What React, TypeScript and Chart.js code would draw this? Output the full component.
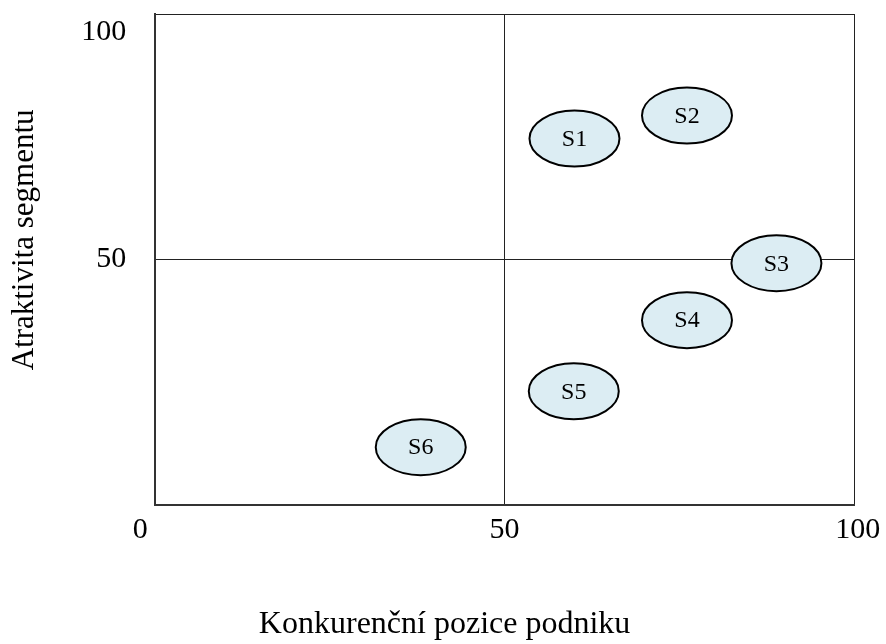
import React, { useEffect, useRef } from "react";
import { Chart, registerables } from "chart.js";

Chart.register(...registerables);

const segmentLabels = ["S1", "S2", "S3", "S4", "S5", "S6"];
const competitivePosition = [60.0, 76.1, 88.9, 76.1, 59.9, 38.0];
const segmentAttractiveness = [74.6, 79.3, 49.2, 37.6, 23.1, 11.7];
const tickValues = [0, 50, 100];
const xTitle = "Konkurenční pozice podniku";
const yTitle = "Atraktivita segmentu";

const FONT = "'Liberation Serif', 'Times New Roman', serif";
const NBSP = "\u00a0";

const ellipsePlugin = {
  id: "ellipseLabels",
  afterDatasetsDraw(chart: any) {
    const ctx = chart.ctx;
    const meta = chart.getDatasetMeta(0);
    ctx.save();
    meta.data.forEach((pt: any, i: number) => {
      const { x, y } = pt.getProps(["x", "y"], true);
      ctx.beginPath();
      ctx.ellipse(x, y, 45, 28, 0, 0, Math.PI * 2);
      ctx.fillStyle = "#dcedf3";
      ctx.fill();
      ctx.lineWidth = 2;
      ctx.strokeStyle = "#000";
      ctx.stroke();
      ctx.fillStyle = "#000";
      ctx.font = `24px ${FONT}`;
      ctx.textAlign = "center";
      ctx.textBaseline = "middle";
      ctx.fillText(segmentLabels[i], x, y + 1);
    });
    ctx.restore();
  },
};

export default function App() {
  const ref = useRef<HTMLCanvasElement | null>(null);
  useEffect(() => {
    document.body.style.margin = "0";
    const data = competitivePosition.map((x, i) => ({ x, y: segmentAttractiveness[i] }));
    const chart = new Chart(ref.current as HTMLCanvasElement, {
      type: "scatter",
      data: {
        datasets: [
          {
            data,
            pointRadius: 0,
            pointHoverRadius: 0,
          },
        ],
      },
      options: {
        animation: false,
        responsive: false,
        maintainAspectRatio: false,
        layout: { padding: 0 },
        plugins: { legend: { display: false }, tooltip: { enabled: false } },
        scales: {
          x: {
            type: "linear",
            min: 0,
            max: 100,
            afterBuildTicks: (s: any) => {
              s.ticks = tickValues.map((v) => ({ value: v }));
            },
            afterFit: (s: any) => {
              s.paddingRight = 32;
              s.paddingLeft = 0;
            },
            grid: { color: "#222", lineWidth: 1, drawTicks: false },
            border: { color: "#333", width: 2 },
            ticks: {
              color: "#000",
              padding: 8,
              font: { family: FONT, size: 30 },
              callback: (v: any) =>
                v === 0 ? "0" + NBSP.repeat(4) : v === 100 ? NBSP + "100" : String(v),
            },
            title: {
              display: true,
              text: xTitle + NBSP.repeat(15),
              color: "#000",
              font: { family: FONT, size: 32 },
              padding: { top: 49, bottom: 0 },
            },
          },
          y: {
            type: "linear",
            min: 0,
            max: 100,
            afterBuildTicks: (s: any) => {
              s.ticks = tickValues.map((v) => ({ value: v }));
            },
            afterFit: (s: any) => {
              s.paddingTop = 14;
              s.paddingBottom = 0;
            },
            grid: { color: "#222", lineWidth: 1, drawTicks: false },
            border: { color: "#333", width: 2 },
            ticks: {
              color: "#000",
              padding: 29,
              font: { family: FONT, size: 30 },
              callback: (v: any) => (v === 0 ? "" : v === 100 ? ["", "100"] : String(v)),
            },
            title: {
              display: true,
              text: NBSP.repeat(5) + yTitle,
              color: "#000",
              font: { family: FONT, size: 31 },
              padding: { top: 6, bottom: 9 },
            },
          },
        },
      },
      plugins: [ellipsePlugin],
    });
    return () => chart.destroy();
  }, []);
  return (
    <div style={{ position: "absolute", left: 0, top: 0, width: 886, height: 644 }}>
      <canvas ref={ref} width={886} height={644} style={{ width: 886, height: 644 }} />
    </div>
  );
}
